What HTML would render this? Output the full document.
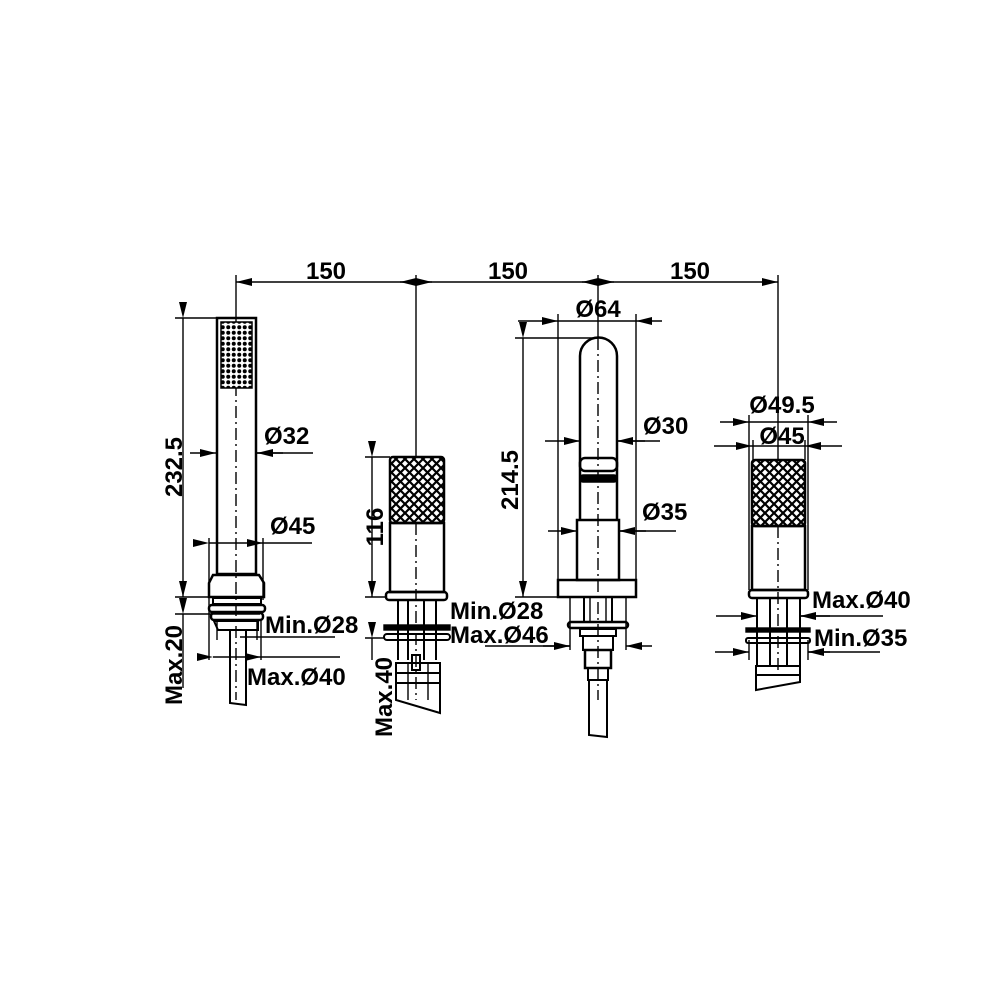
<!DOCTYPE html>
<html><head><style>body{margin:0;background:#fff}svg{display:block}text{font-family:"Liberation Sans",Arial,sans-serif;font-weight:bold;font-size:24px;fill:#000}</style></head>
<body>
<svg width="1000" height="1000" viewBox="0 0 1000 1000" xmlns="http://www.w3.org/2000/svg">
<defs>
<pattern id="kn" width="9" height="9" patternUnits="userSpaceOnUse"><rect width="9" height="9" fill="#fff"/><path d="M0 0L9 9M9 0L0 9" stroke="#000" stroke-width="2.2"/></pattern>
<pattern id="dt" width="5.5" height="5.5" patternUnits="userSpaceOnUse"><rect width="5.5" height="5.5" fill="#fff"/><circle cx="2.75" cy="2.75" r="2" fill="#000"/></pattern>
<marker id="a" markerWidth="16" markerHeight="8" refX="16" refY="4" orient="auto" markerUnits="userSpaceOnUse"><path d="M0 0L16 4L0 8z"/></marker>
<marker id="b" markerWidth="16" markerHeight="8" refX="0" refY="4" orient="auto" markerUnits="userSpaceOnUse"><path d="M16 0L0 4L16 8z"/></marker>
</defs>
<g stroke="#000" stroke-width="1.4" fill="none">
<line x1="236" y1="282" x2="778" y2="282" marker-start="url(#b)" marker-end="url(#a)"/>
<line x1="416" y1="282" x2="400" y2="282" marker-end="url(#a)"/><line x1="416" y1="282" x2="432" y2="282" marker-end="url(#a)"/>
<line x1="598" y1="282" x2="582" y2="282" marker-end="url(#a)"/><line x1="598" y1="282" x2="614" y2="282" marker-end="url(#a)"/>
<line x1="236" y1="275" x2="236" y2="318"/><line x1="416" y1="275" x2="416" y2="457"/><line x1="598" y1="275" x2="598" y2="338"/><line x1="778" y1="275" x2="778" y2="460"/>
<g stroke-dasharray="12,4,2,4"><line x1="236" y1="318" x2="236" y2="700"/><line x1="416" y1="457" x2="416" y2="700"/><line x1="598" y1="338" x2="598" y2="700"/><line x1="778" y1="460" x2="778" y2="680"/></g>

<rect x="217" y="318" width="39" height="256" stroke-width="2.5"/>
<rect x="221" y="322" width="31" height="66" fill="url(#dt)" stroke-width="1.5"/>
<path d="M213 575H259L264 583V597H209V583Z" stroke-width="2.5"/>
<rect x="213" y="598" width="48" height="6" stroke-width="2"/>
<rect x="209" y="605" width="56" height="7" rx="3" stroke-width="2.5"/>
<rect x="211" y="613" width="52" height="7" rx="3" stroke-width="2.5"/>
<path d="M214 621H258V630H218Z" stroke-width="2"/>
<path d="M230 630V703L246 705V630" stroke-width="2"/>
<line x1="183" y1="318" x2="183" y2="597" marker-start="url(#a)" marker-end="url(#a)"/>
<line x1="175" y1="318" x2="217" y2="318"/>
<line x1="175" y1="597" x2="260" y2="597"/><line x1="175" y1="614" x2="260" y2="614"/>
<line x1="183" y1="614" x2="183" y2="688" marker-start="url(#a)"/>
<line x1="190" y1="453" x2="216" y2="453" marker-end="url(#a)"/><line x1="283" y1="453" x2="257" y2="453" marker-end="url(#a)"/><line x1="256" y1="453" x2="313" y2="453"/>
<line x1="209" y1="543" x2="263" y2="543" marker-start="url(#a)" marker-end="url(#a)"/><line x1="263" y1="543" x2="312" y2="543"/>
<line x1="209" y1="538" x2="209" y2="660"/><line x1="263" y1="538" x2="263" y2="600"/>
<line x1="217" y1="620" x2="217" y2="640"/><line x1="257" y1="620" x2="257" y2="640"/>
<line x1="240" y1="637" x2="335" y2="637"/>
<line x1="213" y1="657" x2="261" y2="657" marker-start="url(#a)" marker-end="url(#a)"/><line x1="261" y1="657" x2="340" y2="657"/>
<line x1="261" y1="620" x2="261" y2="660"/>

<rect x="390" y="457" width="54" height="66" fill="url(#kn)" stroke-width="2.5" rx="3"/>
<rect x="390" y="523" width="54" height="69" stroke-width="2.5"/>
<rect x="386" y="592" width="61" height="8" rx="3" stroke-width="2.5"/>
<line x1="398" y1="600" x2="398" y2="660" stroke-width="2"/><line x1="436" y1="600" x2="436" y2="660" stroke-width="2"/>
<line x1="408" y1="600" x2="408" y2="660" stroke-width="2"/><line x1="424" y1="600" x2="424" y2="660" stroke-width="2"/>
<rect x="384" y="625" width="66" height="5" fill="#000"/>
<rect x="384" y="634" width="66" height="6" rx="3" stroke-width="2"/>
<rect x="412" y="655" width="8" height="15" stroke-width="2"/>
<rect x="396" y="663" width="44" height="10" stroke-width="2"/>
<rect x="396" y="673" width="44" height="10" stroke-width="2"/>
<line x1="408" y1="663" x2="408" y2="700"/><line x1="428" y1="663" x2="428" y2="700"/>
<path d="M396 683V700L440 713V683" stroke-width="2"/>
<line x1="372" y1="457" x2="372" y2="597" marker-start="url(#a)" marker-end="url(#a)"/>
<line x1="365" y1="457" x2="390" y2="457"/><line x1="365" y1="597" x2="386" y2="597"/>
<line x1="372" y1="638" x2="372" y2="660" marker-start="url(#a)"/><line x1="365" y1="638" x2="384" y2="638"/>

<path d="M580 520V356A18.5 18.5 0 0 1 617 356V520" stroke-width="2.5"/>
<rect x="580" y="458" width="37" height="13" rx="5" stroke-width="2.5"/>
<rect x="580" y="475" width="37" height="7" rx="3" fill="#000"/>
<rect x="577" y="520" width="42" height="60" stroke-width="2.5"/>
<rect x="558" y="580" width="78" height="17" stroke-width="2.5"/>
<line x1="584" y1="597" x2="584" y2="622" stroke-width="2"/><line x1="612" y1="597" x2="612" y2="622" stroke-width="2"/>
<line x1="590" y1="597" x2="590" y2="622"/><line x1="606" y1="597" x2="606" y2="622"/>
<rect x="568" y="622" width="60" height="6" rx="3" stroke-width="2.5"/>
<rect x="580" y="629" width="36" height="7" stroke-width="2"/>
<rect x="583" y="636" width="30" height="14" stroke-width="2"/>
<rect x="585" y="650" width="26" height="18" stroke-width="2.5"/>
<rect x="588" y="668" width="20" height="12" stroke-width="2"/>
<path d="M589 680V735L607 737V680" stroke-width="2"/>
<line x1="518" y1="321" x2="558" y2="321" marker-end="url(#a)"/><line x1="662" y1="321" x2="636" y2="321" marker-end="url(#a)"/><line x1="558" y1="321" x2="636" y2="321"/>
<line x1="558" y1="314" x2="558" y2="580"/><line x1="636" y1="314" x2="636" y2="580"/>
<line x1="523" y1="338" x2="523" y2="597" marker-start="url(#a)" marker-end="url(#a)"/>
<line x1="515" y1="338" x2="598" y2="338"/><line x1="515" y1="597" x2="558" y2="597"/>
<line x1="545" y1="441" x2="580" y2="441" marker-end="url(#a)"/><line x1="645" y1="441" x2="617" y2="441" marker-end="url(#a)"/><line x1="617" y1="441" x2="660" y2="441"/>
<line x1="548" y1="531" x2="577" y2="531" marker-end="url(#a)"/><line x1="646" y1="531" x2="619" y2="531" marker-end="url(#a)"/><line x1="619" y1="531" x2="676" y2="531"/>
<line x1="570" y1="597" x2="570" y2="650"/><line x1="626" y1="597" x2="626" y2="650"/>
<line x1="485" y1="646" x2="570" y2="646"/><line x1="543" y1="646" x2="570" y2="646" marker-end="url(#a)"/><line x1="652" y1="646" x2="626" y2="646" marker-end="url(#a)"/>

<rect x="752" y="460" width="53" height="66" fill="url(#kn)" stroke-width="2.5" rx="3"/>
<rect x="752" y="526" width="53" height="64" stroke-width="2.5"/>
<rect x="749" y="590" width="59" height="8" rx="3" stroke-width="2.5"/>
<line x1="757" y1="598" x2="757" y2="665" stroke-width="2"/><line x1="800" y1="598" x2="800" y2="665" stroke-width="2"/>
<line x1="770" y1="598" x2="770" y2="665" stroke-width="2"/><line x1="787" y1="598" x2="787" y2="665" stroke-width="2"/>
<rect x="746" y="628" width="64" height="4" fill="#000"/>
<rect x="746" y="638" width="64" height="5" rx="2" stroke-width="2"/>
<rect x="756" y="666" width="44" height="9" stroke-width="2"/>
<path d="M756 675V690L800 682V675" stroke-width="2"/>
<line x1="720" y1="422" x2="749" y2="422" marker-end="url(#a)"/><line x1="837" y1="422" x2="808" y2="422" marker-end="url(#a)"/><line x1="749" y1="422" x2="808" y2="422"/>
<line x1="714" y1="446" x2="752" y2="446" marker-end="url(#a)"/><line x1="842" y1="446" x2="805" y2="446" marker-end="url(#a)"/><line x1="752" y1="446" x2="805" y2="446"/>
<line x1="749" y1="415" x2="749" y2="590"/><line x1="808" y1="415" x2="808" y2="590"/>
<line x1="753" y1="440" x2="753" y2="460"/><line x1="805" y1="440" x2="805" y2="460"/>
<line x1="716" y1="616" x2="757" y2="616" marker-end="url(#a)"/><line x1="830" y1="616" x2="800" y2="616" marker-end="url(#a)"/><line x1="800" y1="616" x2="883" y2="616"/>
<line x1="715" y1="652" x2="749" y2="652" marker-end="url(#a)"/><line x1="830" y1="652" x2="808" y2="652" marker-end="url(#a)"/><line x1="808" y1="652" x2="880" y2="652"/>
<line x1="749" y1="640" x2="749" y2="660"/><line x1="808" y1="640" x2="808" y2="660"/>
</g>
<g>
<text x="326" y="279" text-anchor="middle">150</text>
<text x="508" y="279" text-anchor="middle">150</text>
<text x="690" y="279" text-anchor="middle">150</text>
<text x="264" y="444">Ø32</text>
<text x="270" y="534">Ø45</text>
<text x="265" y="633">Min.Ø28</text>
<text x="247" y="685">Max.Ø40</text>
<text transform="translate(182,467) rotate(-90)" text-anchor="middle">232.5</text>
<text transform="translate(182,665) rotate(-90)" text-anchor="middle">Max.20</text>
<text transform="translate(383,527) rotate(-90)" text-anchor="middle">116</text>
<text transform="translate(392,697) rotate(-90)" text-anchor="middle">Max.40</text>
<text x="450" y="619">Min.Ø28</text>
<text x="450" y="643">Max.Ø46</text>
<text x="598" y="317" text-anchor="middle">Ø64</text>
<text transform="translate(518,480) rotate(-90)" text-anchor="middle">214.5</text>
<text x="643" y="434">Ø30</text>
<text x="642" y="520">Ø35</text>
<text x="782" y="413" text-anchor="middle">Ø49.5</text>
<text x="782" y="444" text-anchor="middle">Ø45</text>
<text x="812" y="608">Max.Ø40</text>
<text x="814" y="646">Min.Ø35</text>
</g>
</svg>
</body></html>
